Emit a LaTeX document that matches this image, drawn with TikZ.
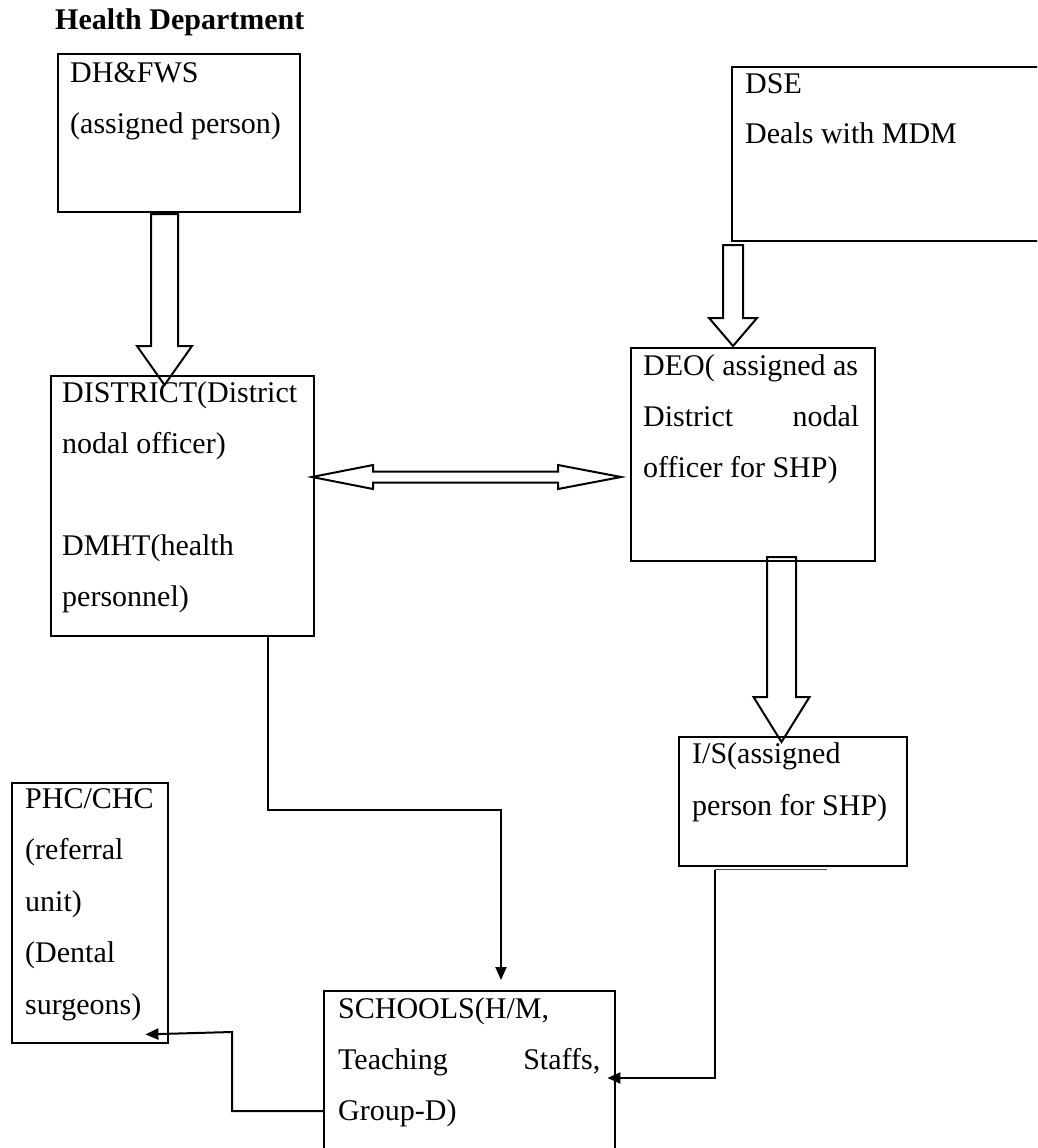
\documentclass[tikz,border=0pt]{standalone}
\usepackage{fontspec}
\setmainfont{Liberation Serif}
\usetikzlibrary{arrows.meta,calc}

% hollow block arrow pointing down: x, y of tail, y where head starts, y of tip, half shaft, half head
\newcommand\blockdown[6]{%
  \draw[blockarrow] (#1-#5,#2) -- (#1+#5,#2) -- (#1+#5,#3) -- (#1+#6,#3)
    -- (#1,#4) -- (#1-#6,#3) -- (#1-#5,#3) -- cycle;}

\begin{document}
\begin{tikzpicture}[x=1pt,y=-1pt,
  box/.style={draw, line width=2.4pt, inner sep=0pt, anchor=north west},
  txt/.style={anchor=base west, inner sep=0pt, font=\fontsize{30}{36}\selectfont},
  conn/.style={line width=2pt, -{Triangle[length=13pt,width=11pt]}},
  blockarrow/.style={draw, fill=white, line width=2pt, line join=miter},
]
\useasboundingbox (0,0) rectangle (1037,1148);
\clip (0,0) rectangle (1037,1148);

% hollow block arrows
\blockdown{164.5}{214}{346}{385}{13.5}{27.5}
\blockdown{733}{245}{318}{346}{10}{24}
\blockdown{781.5}{557}{697}{742}{14.5}{28}
\draw[blockarrow] (312,477) -- (373,465) -- (373,471.5) -- (558,471.5) -- (558,465)
  -- (621,477) -- (558,489) -- (558,482.5) -- (373,482.5) -- (373,489) -- cycle;

% boxes
\node[box, minimum width=242pt, minimum height=158pt] (dh) at (57,53) {};
\node[box, minimum width=330pt, minimum height=174pt] (dse) at (731,66) {};
\node[box, minimum width=263pt, minimum height=260pt] (district) at (50,375) {};
\node[box, minimum width=244pt, minimum height=213pt] (deo) at (630,347) {};
\node[box, minimum width=228pt, minimum height=129pt] (is) at (678,736) {};
\node[box, minimum width=156pt, minimum height=260pt] (phc) at (11,782) {};
\node[box, minimum width=291pt, minimum height=200pt] (schools) at (323,990) {};

% connectors
\coordinate (c1) at (501,810);
\draw[conn] ($(district.south west)+(218,0)$) |- (c1) -- ($(c1 |- schools.north)+(0,-10)$);
\draw[line width=1.5pt, black!70] ($(is.south west)+(37,2.2)$) -- ++(112,0);
\draw[conn] ($(is.south west)+(37,2.2)$) |- ($(schools.north east)+(-9,88)$);
\coordinate (c3) at (232,1032);
\draw[conn] ($(schools.north west)+(0,121)$) -| (c3) -- ($(phc.south east)+(-24,-10)$);

% texts
\node[txt, font=\fontsize{30}{36}\selectfont\bfseries] (title) at (55,30) {Health Department};

\node[txt] (dh1) at (70,82) {DH\&FWS};
\node[txt] (dh2) at (70,133) {(assigned person)};

\node[txt] (dse1) at (745,93) {DSE};
\node[txt] (dse2) at (745,143) {Deals with MDM};

\node[txt] (di1) at (62,402) {DISTRICT(District};
\node[txt] (di2) at (62,453) {nodal officer)};
\node[txt] (di3) at (62,555) {DMHT(health};
\node[txt] (di4) at (62,606) {personnel)};

\node[txt] (deo1) at (643,375) {DEO( assigned as};
\node[txt] (deo2) at (643,426) {\hbox to 216pt{District\hfill nodal}};
\node[txt] (deo3) at (643,477) {officer for SHP)};

\node[txt] (is1) at (692,763) {I/S(assigned};
\node[txt] (is2) at (692,815) {person for SHP)};

\node[txt] (phc1) at (25,808) {PHC/CHC};
\node[txt] (phc2) at (25,859.5) {(referral};
\node[txt] (phc3) at (25,911) {unit)};
\node[txt] (phc4) at (25,962.5) {(Dental};
\node[txt] (phc5) at (25,1014) {surgeons)};

\node[txt] (sch1) at (338,1018) {SCHOOLS(H/M,};
\node[txt] (sch2) at (338,1069) {\hbox to 262pt{Teaching\hfill Staffs,}};
\node[txt] (sch3) at (338,1120) {Group-D)};
\end{tikzpicture}
\end{document}
